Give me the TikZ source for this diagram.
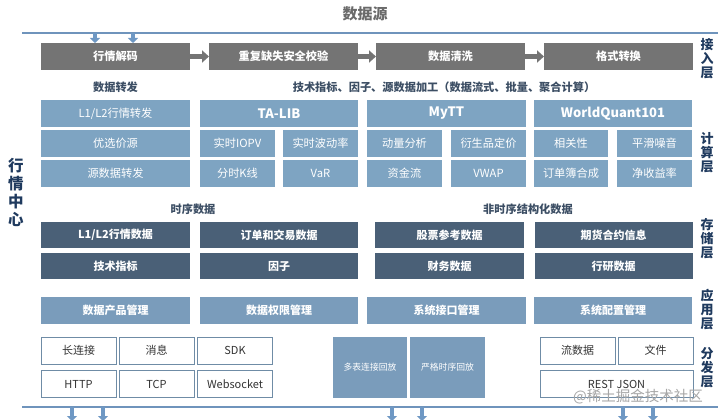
\documentclass[tikz,border=0pt]{standalone}
\usepackage{fontspec}
\setmainfont{Noto Sans CJK SC}
\usetikzlibrary{arrows.meta}
\definecolor{grayBox}{HTML}{747474}
\definecolor{calcBlue}{HTML}{7EA4C2}
\definecolor{storeDark}{HTML}{4A6077}
\definecolor{appBlue}{HTML}{7A9CBB}
\definecolor{edgeBlue}{HTML}{6F8CA6}
\definecolor{lineBlue}{HTML}{6F94BC}
\definecolor{arrBlue}{HTML}{6E98C4}
\definecolor{labelNavy}{HTML}{1F3A5E}
\definecolor{headText}{HTML}{3C4E64}
\definecolor{titleGray}{HTML}{6A6A6A}
\begin{document}
\begin{tikzpicture}[x=1pt,y=-1pt,
  base/.style={inner sep=0pt, outer sep=0pt, align=center, font=\fontsize{11}{12}\selectfont},
  inbox/.style={base, fill=grayBox, text=white, font=\fontsize{11.2}{12}\selectfont\bfseries, minimum width=149pt, minimum height=27pt},
  calcbox/.style={base, fill=calcBlue, text=white, font=\fontsize{11.2}{12}\selectfont, minimum height=27pt},
  calchead/.style={calcbox, font=\fontsize{13}{14}\selectfont\bfseries},
  storebox/.style={base, fill=storeDark, text=white, font=\fontsize{11}{12}\selectfont\bfseries, minimum height=26pt},
  appbox/.style={base, fill=appBlue, text=white, font=\fontsize{11}{12}\selectfont\bfseries, minimum height=27pt},
  distbox/.style={base, fill=white, draw=edgeBlue, line width=1pt, text=black!80, font=\fontsize{11}{12}\selectfont, minimum width=75pt, minimum height=27pt},
  replaybox/.style={base, fill=appBlue, text=white, font=\fontsize{8.8}{10}\selectfont, minimum width=74pt, minimum height=61pt},
  heading/.style={base, text=headText, font=\fontsize{11.2}{12}\selectfont\bfseries},
  layerlabel/.style={base, text=labelNavy, font=\fontsize{13}{14}\selectfont\bfseries},
  flowarrow/.style={grayBox, line width=5pt, -{Triangle[width=12pt,length=7pt]}},
  downarrow/.style={arrBlue, line width=4pt, -{Triangle[width=10pt,length=5pt]}},
  busline/.style={lineBlue, line width=1.5pt}
]
\useasboundingbox (0,0) rectangle (720,420);

% title
\node[base, text=titleGray, font=\fontsize{15}{16}\selectfont\bfseries] (title) at (365,14) {数据源};

% top bus line
\coordinate (topL) at (22,33);
\coordinate (topR) at (718,33);
\draw[busline] (topL) -- (topR);
\coordinate (ta1) at (95,33); \coordinate (tb1) at (95,43);
\coordinate (ta2) at (133,33); \coordinate (tb2) at (133,43);
\draw[downarrow] (ta1) -- (tb1);
\draw[downarrow] (ta2) -- (tb2);

% access layer
\node[inbox] (decode) at (115.5,56.5) {行情解码};
\node[inbox] (check) at (283.5,56.5) {重复缺失安全校验};
\node[inbox] (clean) at (450.5,56.5) {数据清洗};
\node[inbox] (format) at (618.5,56.5) {格式转换};
\draw[flowarrow] (decode.east) -- (check.west);
\draw[flowarrow] (check.east) -- (clean.west);
\draw[flowarrow] (clean.east) -- (format.west);

% compute layer headings
\node[heading] (hfwd) at (115.5,87) {数据转发};
\node[heading] (hcalc) at (444,87) {技术指标、因子、源数据加工（数据流式、批量、聚合计算）};

% compute layer boxes
\node[calcbox, minimum width=149pt] (l1fwd) at (115.5,113.5) {L1/L2行情转发};
\node[calcbox, minimum width=149pt] (best) at (115.5,143.5) {优选价源};
\node[calcbox, minimum width=149pt] (srcfwd) at (115.5,173.5) {源数据转发};

\node[calchead, minimum width=158pt] (talib) at (279,113.5) {TA-LIB};
\node[calcbox, minimum width=75pt] (iopv) at (237.5,143.5) {实时IOPV};
\node[calcbox, minimum width=75pt] (vol) at (320.5,143.5) {实时波动率};
\node[calcbox, minimum width=75pt] (kline) at (237.5,173.5) {分时K线};
\node[calcbox, minimum width=75pt] (var) at (320.5,173.5) {VaR};

\node[calchead, minimum width=159pt] (mytt) at (446.5,113.5) {MyTT};
\node[calcbox, minimum width=75pt] (mom) at (404.5,143.5) {动量分析};
\node[calcbox, minimum width=75pt] (deriv) at (488.5,143.5) {衍生品定价};
\node[calcbox, minimum width=75pt] (flow) at (404.5,173.5) {资金流};
\node[calcbox, minimum width=75pt] (vwap) at (488.5,173.5) {VWAP};

\node[calchead, minimum width=158pt] (wq) at (613,113.5) {WorldQuant101};
\node[calcbox, minimum width=74pt] (corr) at (571,143.5) {相关性};
\node[calcbox, minimum width=75pt] (smooth) at (654.5,143.5) {平滑噪音};
\node[calcbox, minimum width=74pt] (book) at (571,173.5) {订单簿合成};
\node[calcbox, minimum width=75pt] (ret) at (654.5,173.5) {净收益率};

% storage layer
\node[heading] (hts) at (193,209) {时序数据};
\node[heading] (hnts) at (528,209) {非时序结构化数据};
\node[storebox, minimum width=149pt] (l1data) at (115.5,235) {L1/L2行情数据};
\node[storebox, minimum width=158pt] (order) at (279,235) {订单和交易数据};
\node[storebox, minimum width=149pt] (techind) at (115.5,266) {技术指标};
\node[storebox, minimum width=158pt] (factor) at (279,266) {因子};
\node[storebox, minimum width=149pt] (stockref) at (449.5,235) {股票参考数据};
\node[storebox, minimum width=158pt] (futures) at (613.5,235) {期货合约信息};
\node[storebox, minimum width=149pt] (fin) at (449.5,266) {财务数据};
\node[storebox, minimum width=158pt] (research) at (613.5,266) {行研数据};

% application layer
\node[appbox, minimum width=149pt] (prod) at (115.5,310.5) {数据产品管理};
\node[appbox, minimum width=158pt] (perm) at (279,310.5) {数据权限管理};
\node[appbox, minimum width=159pt] (iface) at (446.5,310.5) {系统接口管理};
\node[appbox, minimum width=158pt] (conf) at (613,310.5) {系统配置管理};

% distribution layer
\node[distbox] (longc) at (78.5,350.5) {长连接};
\node[distbox] (msg) at (156.5,350.5) {消息};
\node[distbox] (sdk) at (235,350.5) {SDK};
\node[distbox] (http) at (78.5,384) {HTTP};
\node[distbox] (tcp) at (156.5,384) {TCP};
\node[distbox] (ws) at (235,384) {Websocket};
\node[replaybox] (multi) at (370,367.5) {多表连接回放};
\node[replaybox, minimum width=75pt] (strict) at (447.5,367.5) {严格时序回放};
\node[distbox] (stream) at (577.5,350.5) {流数据};
\node[distbox] (file) at (655.5,350.5) {文件};
\node[distbox, minimum width=153pt] (rest) at (616.5,384) {REST JSON};

% bottom bus line
\coordinate (botL) at (22,407);
\coordinate (botR) at (718,407);
\draw[busline] (botL) -- (botR);
\foreach \xx [count=\i] in {72,103,392,422,623,653} {
  \coordinate (ba\i) at (\xx,407);
  \coordinate (bb\i) at (\xx,421);
  \draw[downarrow] (ba\i) -- (bb\i);
}

% layer labels
\node[layerlabel] (lin) at (707,59) {接\\入\\层};
\node[layerlabel] (lcalc) at (707,153) {计\\算\\层};
\node[layerlabel] (lstore) at (707,238.5) {存\\储\\层};
\node[layerlabel] (lapp) at (707,310) {应\\用\\层};
\node[layerlabel] (ldist) at (707,367.5) {分\\发\\层};
\node[base, text=labelNavy, font=\fontsize{15.5}{18}\selectfont\bfseries] (center) at (16,192) {行\\情\\中\\心};

% watermark
\node[base, text=black!35, font=\fontsize{14.5}{15}\selectfont] (wm) at (638,397) {@稀土掘金技术社区};
\end{tikzpicture}
\end{document}
